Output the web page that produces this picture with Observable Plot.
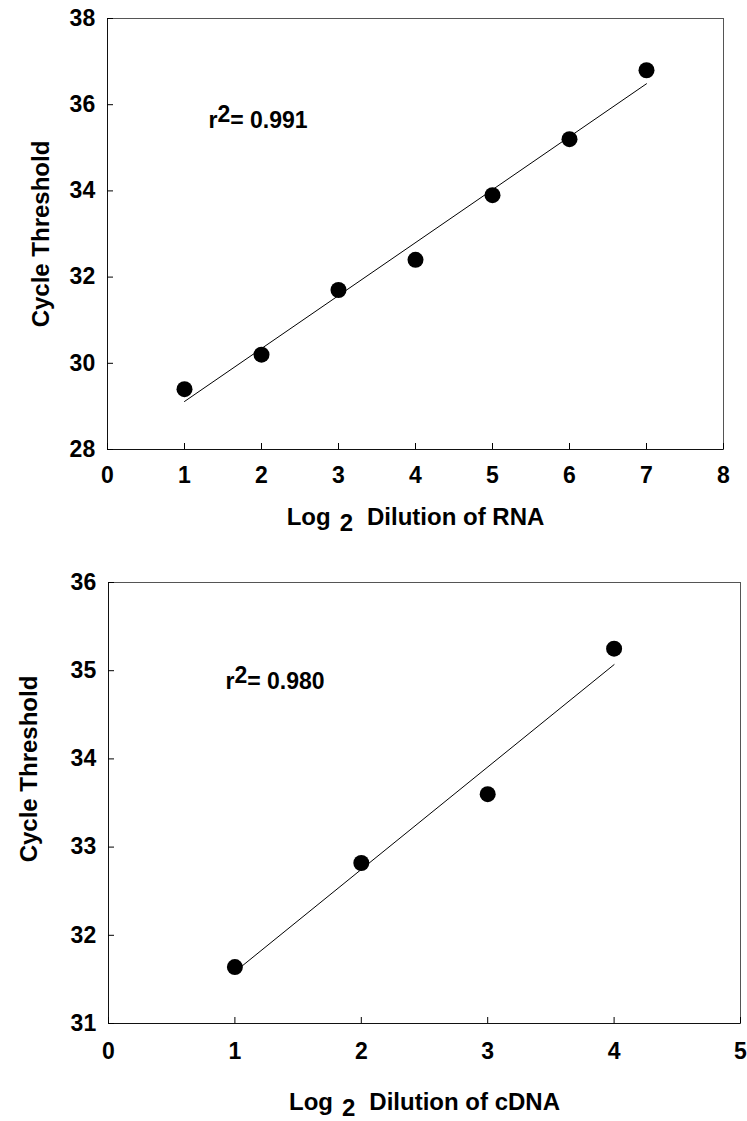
<!DOCTYPE html>
<html>
<head>
<meta charset="utf-8">
<script src="https://cdn.jsdelivr.net/npm/d3@7"></script>
<script src="https://cdn.jsdelivr.net/npm/@observablehq/plot@0.6"></script>
<style>
  body { margin: 0; background: #fff; }
  #chart { width: 747px; }
  #chart svg { display: block; }
</style>
</head>
<body>
<div id="chart"></div>
<script>
// Standard curve: RNA template
const rnaDilution = [1, 2, 3, 4, 5, 6, 7];
const rnaCt = [29.4, 30.2, 31.7, 32.4, 33.9, 35.2, 36.8];
const rnaXTicks = [0, 1, 2, 3, 4, 5, 6, 7, 8];
const rnaYTicks = [28, 30, 32, 34, 36, 38];
const rnaR2 = "0.991";
const rnaXLabel = "Dilution of RNA";

// Standard curve: cDNA template
const cdnaDilution = [1, 2, 3, 4];
const cdnaCt = [31.64, 32.82, 33.6, 35.25];
const cdnaXTicks = [0, 1, 2, 3, 4, 5];
const cdnaYTicks = [31, 32, 33, 34, 35, 36];
const cdnaR2 = "0.980";
const cdnaXLabel = "Dilution of cDNA";

const yLabel = "Cycle Threshold";
const logLabel = "Log";
const logBase = "2";

const font = "'Liberation Sans', Arial, Helvetica, sans-serif";

function panel(cfg) {
  const rows = cfg.xs.map((x, i) => ({x, y: cfg.ys[i]}));
  const xDomain = d3.extent(cfg.xTicks);
  const yDomain = d3.extent(cfg.yTicks);
  const r2Raw = `r2= ${cfg.r2}`;
  const svg = Plot.plot({
    width: 747,
    height: cfg.height,
    marginTop: cfg.mt,
    marginRight: cfg.mr,
    marginBottom: cfg.mb,
    marginLeft: cfg.ml,
    style: {fontFamily: font, fontSize: "23px", fontWeight: "bold", color: "#000", background: "#fff", overflow: "visible"},
    x: {domain: xDomain},
    y: {domain: yDomain},
    marks: [
      Plot.frame({stroke: "#555", strokeWidth: 1}),
      Plot.ruleX(xDomain.slice(0, 1), {stroke: "#111"}),
      Plot.ruleY(yDomain.slice(0, 1), {stroke: "#111"}),
      Plot.axisX({ticks: cfg.xTicks, tickFormat: d => String(d), tickSize: -6, tickPadding: cfg.xPad, label: null, fontSize: 23, fontWeight: "bold"}),
      Plot.axisY({ticks: cfg.yTicks, tickFormat: d => String(d), tickSize: -6, tickPadding: 18.3, label: null, fontSize: 23, fontWeight: "bold"}),
      Plot.linearRegressionY(rows, {x: "x", y: "y", ci: 0, stroke: "#000", strokeWidth: 1}),
      Plot.dot(rows, {x: "x", y: "y", r: 8, fill: "#000", stroke: "none"}),
      Plot.text([r2Raw], {frameAnchor: "top-left", textAnchor: "start", lineAnchor: "bottom", dx: cfg.r2dx, dy: cfg.r2dy, fontSize: 23, fontWeight: "bold"}),
      Plot.text([yLabel], {frameAnchor: "left", textAnchor: "middle", rotate: -90, dx: cfg.ylabDx, dy: cfg.ylabDy, fontSize: 24, fontWeight: "bold"}),
      Plot.text([cfg.xLabel], {frameAnchor: "bottom", textAnchor: "middle", lineAnchor: "bottom", dy: cfg.xlabDy, fontSize: 24, fontWeight: "bold"})
    ]
  });

  const texts = d3.select(svg).selectAll("text");

  // r² with a raised exponent
  const r2Text = texts.filter(function() { return this.textContent === r2Raw; });
  r2Text.text(null);
  r2Text.append("tspan").text("r");
  r2Text.append("tspan").attr("dy", -6).text("2");
  r2Text.append("tspan").attr("dy", 6).text(`= ${cfg.r2}`);

  // "Log 2 Dilution of ..." with a lowered base
  const xt = texts.filter(function() { return this.textContent === cfg.xLabel; });
  xt.text(null);
  xt.append("tspan").text(logLabel);
  xt.append("tspan").attr("dx", 9).attr("dy", 6).text(logBase);
  xt.append("tspan").attr("dx", 14).attr("dy", -6).text(cfg.xLabel);
  return svg;
}

const chart = document.getElementById("chart");
chart.append(panel({
  xs: rnaDilution, ys: rnaCt, xTicks: rnaXTicks, yTicks: rnaYTicks, r2: rnaR2, xLabel: rnaXLabel,
  height: 540, mt: 18, mr: 24, mb: 91, ml: 107, xPad: 23.5,
  r2dx: 101, r2dy: 109, ylabDx: -66, ylabDy: 0, xlabDy: 75.5
}));
chart.append(panel({
  xs: cdnaDilution, ys: cdnaCt, xTicks: cdnaXTicks, yTicks: cdnaYTicks, r2: cdnaR2, xLabel: cdnaXLabel,
  height: 581, mt: 42, mr: 7, mb: 98, ml: 108, xPad: 25.5,
  r2dx: 117, r2dy: 106, ylabDx: -79, ylabDy: -34, xlabDy: 86
}));
</script>
</body>
</html>
